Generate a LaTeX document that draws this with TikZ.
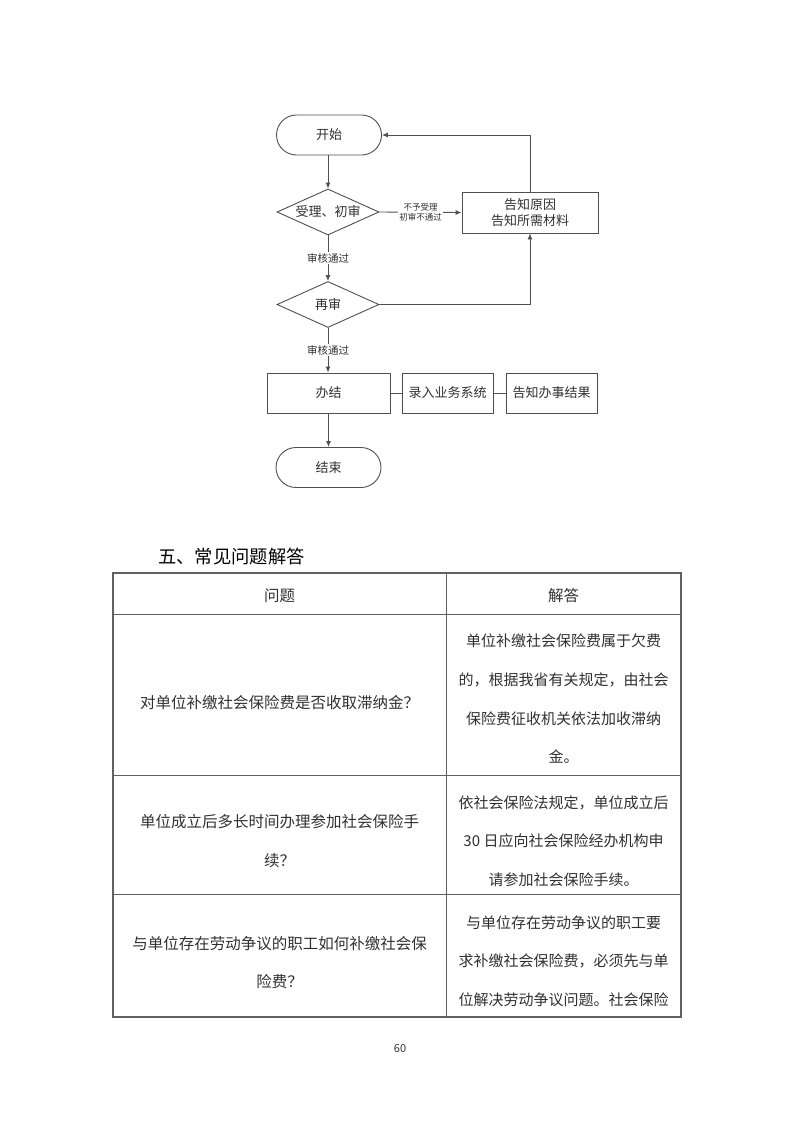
\documentclass[tikz,border=0pt]{standalone}
\usepackage{fontspec}
\setmainfont{Noto Sans CJK SC}
\usetikzlibrary{shapes.geometric,arrows.meta}
\definecolor{ln}{HTML}{505050}
\definecolor{tl}{HTML}{606060}
\definecolor{tx}{HTML}{303030}
\tikzset{
  fc/.style={draw=ln, line width=0.9pt, text=tx, font=\fontsize{13}{16}\selectfont},
  term/.style={fc, rectangle, rounded corners=20pt, minimum width=105pt, minimum height=40pt},
  dec/.style={fc, diamond, aspect=2.2, inner sep=0pt, minimum width=102pt, minimum height=46pt},
  proc/.style={fc, rectangle, minimum height=40pt, inner sep=1pt, align=center},
  arr/.style={draw=ln, line width=0.9pt, -{Latex[length=6pt,width=5pt]}},
  con/.style={draw=ln, line width=0.9pt},
  elab/.style={fill=white, text=tx, inner sep=1pt, align=center},
  tline/.style={draw=tl, line width=0.8pt},
  qtext/.style={text=tx, align=center, font=\fontsize{15.5}{38.7}\selectfont},
  atext/.style={text=tx, align=center, font=\fontsize{15}{38.7}\selectfont},
}
\begin{document}
\begin{tikzpicture}[x=1pt,y=-1pt]
\useasboundingbox (0,0) rectangle (793,1122);
% flowchart
\node[term] (start) at (329,135) {开始};
\node[dec] (d1) at (328,212) {受理、初审};
\node[proc, minimum width=136pt, minimum height=41pt] (tell) at (530,212.5) {告知原因\\告知所需材料};
\node[dec] (d2) at (328,304.5) {再审};
\node[proc, minimum width=123pt] (ban) at (328.5,393) {办结};
\node[proc, minimum width=91pt] (lu) at (447.5,393) {录入业务系统};
\node[proc, minimum width=91pt] (gz) at (551.5,393) {告知办事结果};
\node[term] (end) at (328.5,467.5) {结束};

\draw[arr] (start.south -| d1.north) -- (d1.north);
\draw[arr] (d1.east) -- node[elab, font=\fontsize{8.5}{10}\selectfont] (l1) {不予受理\\初审不通过} (tell.west);
\draw[arr] (tell.north) |- (start.east);
\draw[arr] (d1.south) -- node[elab, font=\fontsize{10.5}{12}\selectfont] (l2) {审核通过} (d2.north);
\draw[arr] (d2.east) -| (tell.south);
\draw[arr] (d2.south) -- node[elab, font=\fontsize{10.5}{12}\selectfont] (l3) {审核通过} (d2.south |- ban.north);
\draw[con] (ban.east) -- (lu.west);
\draw[con] (lu.east) -- (gz.west);
\draw[arr] (ban.south -| end.north) -- (end.north);

% heading
\node[text=black, inner sep=0pt, font=\fontsize{18.3}{20}\selectfont, anchor=west] (head) at (158,557) {五、常见问题解答};

% table
\coordinate (tl) at (113,573);
\coordinate (br) at (681,1017);
\draw[tline, line width=1.2pt] (tl) rectangle (br);
\draw[tline] (446,573) -- (446,1017);
\draw[tline] (113,614) -- (681,614);
\draw[tline] (113,775) -- (681,775);
\draw[tline] (113,894) -- (681,894);

\node[qtext] (h1) at (279.5,596) {问题};
\node[qtext] (h2) at (563.5,596) {解答};

\node[qtext] (q1) at (279.5,703) {对单位补缴社会保险费是否收取滞纳金？};
\node[atext] (a1) at (563.5,699) {单位补缴社会保险费属于欠费\\的，根据我省有关规定，由社会\\保险费征收机关依法加收滞纳\\金。};

\node[qtext] (q2) at (279.5,841) {单位成立后多长时间办理参加社会保险手\\续？};
\node[atext] (a2) at (563.5,841) {依社会保险法规定，单位成立后\\30 日应向社会保险经办机构申\\请参加社会保险手续。};

\node[qtext] (q3) at (279.5,962.5) {与单位存在劳动争议的职工如何补缴社会保\\险费？};
\node[atext] (a3) at (563.5,961) {与单位存在劳动争议的职工要\\求补缴社会保险费，必须先与单\\位解决劳动争议问题。社会保险};

\node[text=tx, font=\fontsize{11}{13}\selectfont] (pg) at (400,1049) {60};
\end{tikzpicture}
\end{document}
